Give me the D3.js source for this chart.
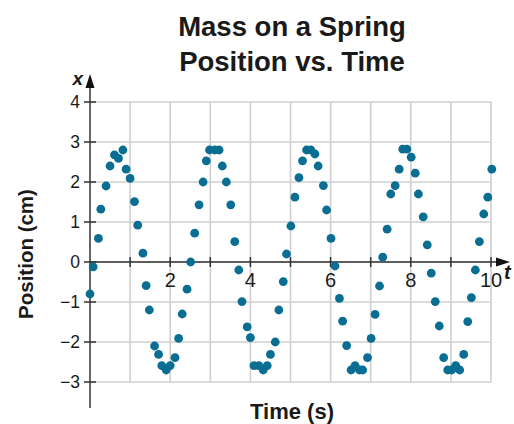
<!DOCTYPE html>
<html>
<head>
<meta charset="utf-8">
<script src="https://cdn.jsdelivr.net/npm/d3@7/dist/d3.min.js"></script>
<style>
  html, body { margin: 0; padding: 0; background: #fff; }
  svg { display: block; }
  text { font-family: "Liberation Sans", Arial, Helvetica, sans-serif; fill: #1a1a1a; }
</style>
</head>
<body>
<svg id="chart" width="514" height="424"></svg>
<script>
// ---- data ----
const times = [0, 0.08, 0.21, 0.27, 0.4, 0.5, 0.61, 0.71, 0.82, 0.9, 1.0,
  1.11, 1.19, 1.32, 1.4, 1.48, 1.61, 1.71, 1.79, 1.9, 2.0,
  2.12, 2.21, 2.3, 2.42, 2.51, 2.61, 2.72, 2.82, 2.9, 2.98,
  3.11, 3.22, 3.3, 3.4, 3.51, 3.61, 3.71, 3.79, 3.92, 4.0,
  4.09, 4.21, 4.32, 4.42, 4.5, 4.62, 4.71, 4.82, 4.9, 5.01,
  5.11, 5.21, 5.3, 5.4, 5.51, 5.61, 5.69, 5.82, 5.9, 6.01,
  6.11, 6.22, 6.3, 6.4, 6.51, 6.61, 6.72, 6.8, 6.92, 7.01,
  7.11, 7.22, 7.3, 7.41, 7.5, 7.61, 7.71, 7.8, 7.9, 8.01,
  8.11, 8.19, 8.31, 8.41, 8.51, 8.61, 8.71, 8.82, 8.92, 9.02,
  9.12, 9.22, 9.32, 9.42, 9.51, 9.61, 9.71, 9.82, 9.92, 10.02];
const positions = [-0.8, -0.12, 0.59, 1.32, 1.9, 2.4, 2.68, 2.59, 2.8, 2.32, 2.09,
  1.51, 0.92, 0.22, -0.59, -1.2, -2.1, -2.31, -2.59, -2.7, -2.59,
  -2.39, -1.91, -1.3, -0.68, 0.0, 0.72, 1.43, 2.0, 2.53, 2.8,
  2.8, 2.8, 2.4, 2.0, 1.43, 0.51, -0.2, -0.99, -1.62, -1.89,
  -2.59, -2.59, -2.7, -2.59, -2.31, -2.0, -1.2, -0.49, 0.2, 0.9,
  1.62, 2.11, 2.53, 2.8, 2.8, 2.7, 2.4, 1.91, 1.3, 0.59,
  -0.1, -0.91, -1.48, -2.09, -2.7, -2.59, -2.7, -2.7, -2.39, -1.91,
  -1.31, -0.6, 0.12, 0.82, 1.7, 1.91, 2.32, 2.82, 2.82, 2.62,
  2.22, 1.7, 1.13, 0.43, -0.28, -0.99, -1.6, -2.39, -2.7, -2.7,
  -2.59, -2.7, -2.31, -1.49, -0.89, -0.2, 0.51, 1.2, 1.62, 2.32];
const xTicks = [1, 2, 3, 4, 5, 6, 7, 8, 9, 10];
const xTickLabels = [2, 4, 6, 8, 10];
const yTicks = [-3, -2, -1, 0, 1, 2, 3, 4];
const titleLines = ["Mass on a Spring", "Position vs. Time"];
const xLabel = "Time (s)";
const yLabel = "Position (cm)";

// ---- scales ----
const x = d3.scaleLinear().domain([0, 10]).range([90, 491]);
const y = d3.scaleLinear().domain([-3, 4]).range([382, 102]);

const svg = d3.select("#chart");
const data = times.map((t, i) => ({ t, p: positions[i] }));

// grid
const grid = svg.append("g").attr("stroke", "#cfcfcf").attr("stroke-width", 1.6);
grid.selectAll("line.v").data(xTicks).join("line")
  .attr("x1", d => x(d)).attr("x2", d => x(d))
  .attr("y1", y(4)).attr("y2", y(-3));
grid.selectAll("line.h").data(yTicks).join("line")
  .attr("x1", x(0)).attr("x2", x(10))
  .attr("y1", d => y(d)).attr("y2", d => y(d));

// axes
const axisColor = "#333";
const ax = svg.append("g").attr("stroke", axisColor).attr("stroke-width", 1.5);
ax.append("line").attr("x1", x(0)).attr("x2", 500).attr("y1", y(0)).attr("y2", y(0));
ax.append("line").attr("x1", x(0)).attr("x2", x(0)).attr("y1", 84).attr("y2", 408);
// ticks
ax.selectAll("line.yt").data(yTicks).join("line")
  .attr("x1", x(0) - 6).attr("x2", x(0) + 6)
  .attr("y1", d => y(d)).attr("y2", d => y(d));
ax.selectAll("line.xt").data(xTicks).join("line")
  .attr("x1", d => x(d)).attr("x2", d => x(d))
  .attr("y1", y(0) - 5).attr("y2", y(0) + 5);
// arrows
svg.append("path")
  .attr("d", `M${x(0)},74 L${x(0) - 4.5},88 L${x(0) + 4.5},88 Z`).attr("fill", "#111");
svg.append("path")
  .attr("d", `M510,${y(0)} L496,${y(0) - 4.5} L496,${y(0) + 4.5} Z`).attr("fill", "#111");

// tick labels
svg.selectAll("text.ylab").data(yTicks).join("text")
  .attr("x", 80).attr("y", d => y(d) + 6)
  .attr("text-anchor", "end").attr("font-size", 17.5)
  .text(d => d < 0 ? "\u2212" + Math.abs(d) : String(d));
svg.selectAll("text.xlab").data(xTickLabels).join("text")
  .attr("x", d => x(d)).attr("y", 287)
  .attr("text-anchor", "middle").attr("font-size", 20)
  .text(d => String(d));

// axis variable labels
svg.append("text").attr("x", 83).attr("y", 85).attr("text-anchor", "end")
  .attr("font-size", 19).attr("font-weight", "bold").attr("font-style", "italic").text("x");
svg.append("text").attr("x", 504).attr("y", 279)
  .attr("font-size", 20).attr("font-weight", "bold").attr("font-style", "italic").text("t");

// points
svg.append("g").selectAll("circle").data(data).join("circle")
  .attr("cx", d => x(d.t)).attr("cy", d => y(d.p)).attr("r", 4.4)
  .attr("fill", "#0a6e92");

// title
svg.append("g").selectAll("text").data(titleLines).join("text")
  .attr("x", 292).attr("y", (d, i) => 36 + i * 35)
  .attr("text-anchor", "middle").attr("font-size", 27.5).attr("font-weight", "bold")
  .text(d => d);

// axis titles
svg.append("text").attr("x", 292).attr("y", 419).attr("text-anchor", "middle")
  .attr("font-size", 22).attr("font-weight", "bold").text(xLabel);
svg.append("text").attr("transform", "translate(33,254) rotate(-90)")
  .attr("text-anchor", "middle").attr("font-size", 20.5).attr("font-weight", "bold").text(yLabel);
</script>
</body>
</html>
